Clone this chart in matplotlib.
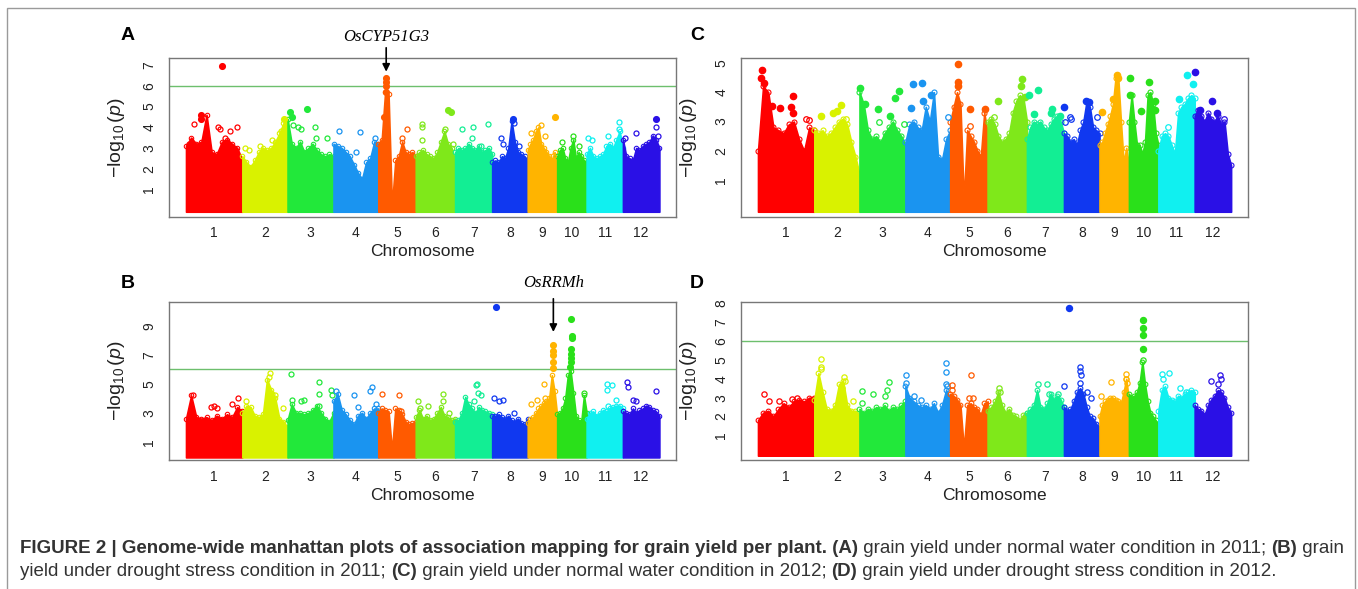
import numpy as np
import matplotlib
matplotlib.use('Agg')
import matplotlib.pyplot as plt
from matplotlib import font_manager
from matplotlib.patches import Rectangle

plt.rcParams['font.family'] = ['Liberation Sans', 'DejaVu Sans']
plt.rcParams['mathtext.fontset'] = 'custom'
plt.rcParams['mathtext.rm'] = 'Liberation Sans'
plt.rcParams['mathtext.it'] = 'Liberation Sans:italic'

W, H = 1358, 589

# chromosome lengths (Mb) and colours
chrom_len = [44.4, 35.6, 36.2, 35.3, 29.5, 31.0, 29.2, 28.0, 23.2, 23.2, 28.6, 28.7]
chrom_names = [str(i) for i in range(1, 13)]
chrom_colors = ['#FF0000', '#D9F200', '#22E83A', '#1A94F0', '#FF5A00', '#7FE81A',
                '#12EE94', '#1038F0', '#FFB400', '#2AE01A', '#10F0F0', '#2A10E6']

# upper outline of the dense SNP cloud, 12 readings across every chromosome
env_A = [[3.1, 3.5, 3.2, 3.3, 4.6, 2.8, 2.7, 3.3, 3.4, 3.2, 3.0, 2.4],
         [2.6, 2.3, 2.1, 2.4, 2.8, 3.0, 2.9, 3.0, 3.3, 3.7, 4.2, 4.4],
         [4.4, 3.2, 3.0, 3.3, 2.8, 3.0, 3.2, 2.9, 2.7, 2.6, 2.7, 2.6],
         [3.2, 3.1, 3.0, 2.8, 2.6, 2.2, 1.8, 1.5, 2.3, 2.5, 3.3, 3.2],
         [3.2, 3.4, 5.7, 5.6, 0.2, 2.4, 2.6, 3.3, 2.8, 2.7, 2.8, 2.6],
         [2.6, 2.8, 2.9, 2.7, 2.6, 2.5, 2.8, 3.3, 3.8, 3.2, 3.0, 2.4],
         [2.8, 3.0, 2.9, 3.0, 3.2, 3.0, 2.9, 3.1, 2.8, 2.9, 3.0, 2.7],
         [2.3, 2.4, 2.3, 2.6, 2.5, 3.0, 4.3, 3.3, 2.8, 2.7, 2.6, 2.4],
         [2.9, 3.2, 3.4, 3.8, 4.0, 3.2, 3.0, 2.8, 2.6, 2.4, 2.8, 2.3],
         [2.6, 2.9, 3.0, 2.5, 2.3, 3.0, 3.4, 2.5, 2.8, 2.6, 2.4, 2.3],
         [2.7, 3.0, 2.6, 2.5, 2.6, 2.7, 3.1, 3.2, 3.0, 3.4, 3.8, 3.0],
         [3.4, 2.6, 2.5, 2.4, 3.0, 2.9, 3.1, 3.2, 3.3, 3.6, 3.4, 3.0]]

env_B = [[2.6, 4.2, 2.7, 2.6, 2.7, 2.5, 2.8, 2.6, 2.9, 2.7, 3.4, 3.1],
         [3.0, 3.5, 3.4, 2.8, 2.7, 2.9, 5.3, 4.6, 4.0, 2.6, 2.4, 2.0],
         [2.5, 3.6, 3.0, 3.0, 2.9, 3.0, 3.2, 3.5, 3.0, 2.6, 2.4, 3.0],
         [3.8, 4.3, 3.2, 2.9, 2.5, 2.2, 2.8, 3.0, 2.6, 3.0, 3.3, 3.3],
         [3.0, 3.3, 3.2, 3.1, 0.4, 3.3, 3.2, 2.9, 2.4, 2.2, 2.3, 2.4],
         [2.7, 3.2, 2.6, 2.8, 2.5, 2.6, 3.0, 3.4, 2.8, 2.7, 2.5, 2.6],
         [2.4, 2.5, 3.0, 4.1, 3.6, 3.3, 3.0, 3.4, 3.2, 3.1, 3.0, 2.9],
         [2.8, 2.8, 2.9, 2.7, 2.6, 2.8, 2.5, 2.4, 2.6, 2.3, 2.2, 2.6],
         [2.3, 2.6, 2.7, 3.0, 3.3, 3.5, 3.7, 3.8, 4.0, 5.6, 4.5, 2.8],
         [2.9, 3.0, 3.3, 4.0, 5.6, 5.9, 4.4, 2.8, 2.5, 2.4, 4.2, 3.0],
         [2.6, 3.0, 3.1, 2.8, 3.0, 3.2, 3.1, 3.3, 3.4, 3.5, 3.5, 3.3],
         [3.1, 3.0, 2.9, 3.3, 3.0, 3.2, 3.3, 3.5, 3.4, 3.2, 3.1, 2.8]]

env_C = [[2.0, 4.2, 4.0, 2.8, 2.7, 2.6, 2.9, 3.0, 2.4, 2.0, 2.8, 2.7],
         [2.7, 2.6, 2.7, 2.5, 2.6, 2.8, 3.0, 3.1, 2.9, 2.3, 1.8, 1.2],
         [4.0, 3.6, 2.7, 2.4, 2.5, 2.3, 2.6, 2.8, 3.0, 2.7, 2.5, 2.2],
         [2.3, 2.9, 3.0, 2.8, 2.7, 3.5, 3.0, 4.0, 1.8, 1.7, 2.4, 2.7],
         [3.0, 3.5, 4.0, 3.6, 0.3, 2.7, 2.5, 2.3, 2.0, 1.8, 3.3, 2.6],
         [3.0, 3.1, 2.9, 2.5, 2.3, 2.4, 2.6, 3.3, 3.7, 3.9, 3.8, 3.0],
         [2.4, 2.8, 3.0, 2.9, 3.0, 2.8, 2.7, 2.9, 3.1, 3.2, 3.0, 2.6],
         [2.6, 2.5, 2.3, 2.4, 2.2, 2.7, 3.0, 3.7, 3.5, 2.8, 2.7, 2.6],
         [2.2, 2.3, 2.6, 2.9, 3.2, 3.6, 4.5, 4.5, 3.0, 1.6, 2.1, 1.5],
         [3.0, 3.9, 3.0, 2.2, 2.2, 1.9, 2.3, 3.9, 4.0, 3.6, 2.6, 2.2],
         [2.0, 2.5, 2.6, 2.5, 2.2, 1.9, 3.3, 3.5, 3.6, 3.8, 3.9, 3.8],
         [3.2, 3.4, 3.2, 3.0, 3.3, 3.1, 3.0, 3.2, 2.9, 3.0, 1.9, 1.5]]

env_D = [[1.8, 2.2, 2.3, 2.0, 2.4, 2.7, 2.5, 2.8, 2.9, 2.8, 3.0, 3.0],
         [2.9, 4.3, 3.3, 2.4, 2.3, 2.6, 3.7, 3.9, 2.6, 2.3, 2.3, 2.1],
         [2.4, 2.2, 2.4, 2.3, 2.5, 2.4, 2.6, 2.3, 2.5, 2.4, 2.6, 2.8],
         [3.6, 3.0, 2.8, 2.6, 2.5, 2.6, 2.4, 2.7, 2.2, 2.6, 3.4, 3.0],
         [3.2, 3.1, 2.9, 2.6, 0.3, 2.6, 2.7, 2.5, 2.4, 2.1, 2.7, 2.8],
         [2.3, 2.5, 2.8, 3.3, 2.6, 2.2, 2.4, 2.1, 2.0, 1.8, 2.1, 2.2],
         [2.2, 2.4, 2.6, 3.4, 2.5, 2.4, 2.7, 3.2, 2.9, 3.1, 2.9, 2.5],
         [2.5, 2.3, 2.4, 2.8, 3.3, 3.5, 3.2, 2.5, 2.0, 1.9, 1.6, 1.4],
         [2.0, 2.6, 2.8, 2.9, 3.0, 3.0, 2.9, 2.8, 2.7, 3.3, 4.0, 2.8],
         [3.2, 3.0, 3.1, 3.3, 3.8, 4.9, 3.7, 2.8, 2.2, 2.0, 1.8, 1.6],
         [2.3, 3.4, 3.6, 3.0, 2.9, 2.8, 3.1, 3.0, 3.2, 3.3, 3.4, 3.3],
         [2.6, 2.4, 2.3, 2.1, 2.6, 2.9, 3.1, 3.4, 3.3, 3.0, 2.5, 2.2]]

# single SNPs standing above the cloud: (chromosome, position along chromosome 0-1, -log10 p)
hits_A = [(1, .64, 6.95), (1, .15, 4.15), (1, .26, 4.6), (1, .27, 4.4), (1, .56, 4.0), (1, .60, 3.9),
          (1, .69, 3.5), (1, .78, 3.8), (1, .90, 4.0), (1, .05, 3.2), (1, .72, 3.3),
          (2, .05, 3.0), (2, .15, 2.9), (2, .40, 3.1), (2, .65, 3.4), (2, .85, 3.8), (2, .93, 4.4),
          (3, .05, 4.75), (3, .10, 4.5), (3, .12, 4.1), (3, .22, 4.0), (3, .30, 3.9), (3, .42, 4.9),
          (3, .60, 4.0), (3, .62, 3.5), (3, .85, 3.5),
          (4, .13, 3.8), (4, .60, 3.75), (4, .93, 3.5), (4, .50, 2.8),
          (5, .21, 6.4), (5, .21, 6.2), (5, .21, 6.0), (5, .20, 5.7), (5, .14, 4.5), (5, .64, 3.5), (5, .77, 3.9),
          (6, .15, 4.15), (6, .15, 4.0), (6, .15, 3.4), (6, .75, 3.9), (6, .82, 4.85), (6, .90, 4.75), (6, .95, 3.2),
          (7, .18, 3.9), (7, .48, 4.0), (7, .45, 3.5), (7, .90, 4.15), (7, .70, 3.1),
          (8, .25, 3.5), (8, .30, 3.2), (8, .59, 4.4), (8, .60, 4.2), (8, .75, 3.1),
          (9, .10, 3.7), (9, .45, 4.1), (9, .60, 3.6), (9, .93, 4.5), (9, .85, 2.6),
          (10, .15, 3.3), (10, .55, 3.6), (10, .75, 3.1),
          (11, .05, 3.5), (11, .15, 3.4), (11, .60, 3.6), (11, .90, 4.25), (11, .88, 3.9),
          (12, .05, 3.5), (12, .35, 3.7), (12, .90, 4.4), (12, .90, 4.0), (12, .95, 3.6)]

hits_B = [(1, .45, 3.4), (1, .50, 3.5), (1, .55, 3.3), (1, .82, 3.6), (1, .92, 4.0), (1, .12, 4.2),
          (2, .08, 3.8), (2, .62, 5.75), (2, .60, 5.5), (2, .65, 4.3), (2, .72, 4.2), (2, .90, 3.3),
          (3, .08, 5.65), (3, .10, 3.9), (3, .30, 3.8), (3, .35, 3.9), (3, .68, 5.1), (3, .68, 4.3),
          (3, .68, 3.5), (3, .94, 4.6), (3, .96, 4.2),
          (4, .05, 4.5), (4, .45, 4.2), (4, .55, 3.4), (4, .82, 4.5), (4, .85, 4.8), (4, .95, 3.6),
          (5, .10, 4.3), (5, .55, 4.2), (5, .60, 3.1),
          (6, .05, 3.8), (6, .10, 3.3), (6, .30, 3.5), (6, .70, 4.3), (6, .70, 3.8), (6, .85, 3.0),
          (7, .50, 3.8), (7, .55, 4.9), (7, .60, 5.0), (7, .62, 4.4), (7, .70, 4.2),
          (8, .12, 10.3), (8, .05, 4.0), (8, .20, 3.8), (8, .30, 3.9), (8, .60, 3.0),
          (9, .10, 3.6), (9, .30, 3.9), (9, .55, 5.0), (9, .60, 4.0), (9, .87, 7.7), (9, .87, 7.3),
          (9, .87, 7.0), (9, .87, 6.5), (9, .87, 6.1),
          (10, .48, 9.5), (10, .49, 8.3), (10, .49, 8.2), (10, .48, 7.4), (10, .48, 7.1), (10, .47, 6.8),
          (10, .47, 6.5), (10, .45, 6.2), (10, .90, 4.4),
          (11, .55, 5.0), (11, .55, 4.6), (11, .70, 4.9), (11, .80, 3.9), (11, .60, 3.5),
          (12, .12, 5.1), (12, .15, 4.8), (12, .28, 3.9), (12, .90, 4.5), (12, .35, 3.8)]

hits_C = [(1, .07, 4.75), (1, .06, 4.5), (1, .10, 4.3), (1, .24, 3.53), (1, .39, 3.45), (1, .59, 3.49),
          (1, .63, 3.87), (1, .62, 3.3), (1, .86, 3.1), (1, .90, 3.05),
          (2, .15, 3.2), (2, .42, 3.3), (2, .50, 3.35), (2, .58, 3.55), (2, .70, 3.1),
          (3, .02, 4.15), (3, .12, 3.6), (3, .41, 3.42), (3, .42, 3.0), (3, .66, 3.2), (3, .78, 3.8),
          (3, .85, 4.05), (3, .97, 2.9),
          (4, .17, 4.28), (4, .38, 4.33), (4, .13, 3.45), (4, .40, 3.7), (4, .57, 3.9), (4, .95, 3.17),
          (5, .20, 4.95), (5, .20, 4.35), (5, .20, 4.2), (5, .52, 3.43), (5, .52, 2.85), (5, .92, 3.42),
          (6, .26, 3.7), (6, .88, 4.44), (6, .84, 4.2), (6, .95, 3.85), (6, .15, 3.15),
          (7, .05, 3.9), (7, .30, 4.08), (7, .20, 3.25), (7, .68, 3.42), (7, .65, 3.3), (7, .90, 3.2),
          (8, .01, 3.49), (8, .03, 3.0), (8, .18, 3.15), (8, .20, 3.1), (8, .62, 3.7), (8, .70, 3.68),
          (8, .94, 3.15),
          (9, .08, 3.32), (9, .47, 3.77), (9, .60, 4.6), (9, .62, 4.5),
          (10, .04, 4.5), (10, .05, 3.9), (10, .42, 3.36), (10, .68, 4.36), (10, .88, 3.7), (10, .88, 3.4),
          (11, .26, 2.83), (11, .56, 3.78), (11, .79, 4.59), (11, .95, 4.27),
          (12, .02, 4.7), (12, .15, 3.4), (12, .47, 3.7), (12, .60, 3.3), (12, .80, 3.1)]

hits_D = [(1, .10, 3.2), (1, .20, 2.8), (1, .38, 2.8), (1, .60, 2.95), (1, .70, 3.0),
          (2, .15, 5.05), (2, .15, 4.6), (2, .15, 4.5), (2, .65, 4.1), (2, .68, 3.9), (2, .62, 3.5), (2, .85, 2.8),
          (3, .05, 3.35), (3, .05, 2.7), (3, .30, 3.2), (3, .55, 3.1), (3, .60, 3.4), (3, .65, 3.85),
          (4, .02, 4.2), (4, .02, 3.8), (4, .20, 3.1), (4, .35, 2.9), (4, .90, 4.85), (4, .90, 4.35),
          (4, .90, 3.7), (4, .92, 3.6),
          (5, .05, 3.65), (5, .05, 3.4), (5, .50, 3.0), (5, .55, 4.2), (5, .60, 3.0),
          (6, .30, 3.5), (6, .32, 3.3),
          (7, .30, 3.75), (7, .55, 3.7), (7, .60, 3.2), (7, .85, 3.2),
          (8, .14, 7.75), (8, .00, 3.6), (8, .45, 4.6), (8, .45, 4.4), (8, .47, 4.2), (8, .45, 3.8),
          (8, .65, 3.3), (8, .75, 3.0),
          (9, .05, 3.1), (9, .40, 3.85), (9, .90, 4.25), (9, .90, 4.0), (9, .92, 3.8),
          (10, .49, 7.1), (10, .48, 6.7), (10, .47, 6.3), (10, .49, 5.6), (10, .49, 5.0),
          (11, .10, 4.25), (11, .12, 4.0), (11, .30, 4.3), (11, .60, 3.5), (11, .75, 3.3),
          (12, .45, 3.9), (12, .70, 4.2), (12, .72, 4.0), (12, .65, 3.7)]

starts = np.concatenate([[0], np.cumsum(chrom_len)[:-1]])
total = float(np.sum(chrom_len))


def px_axes(left, top, right, bottom):
    return [left / W, 1 - bottom / H, (right - left) / W, (bottom - top) / H]


def manhattan(ax, env, hits, ylim, yticks, solid_from, ms, thresh=True):
    for i in range(12):
        h = np.array(env[i])
        x = starts[i] + np.linspace(0, 1, len(h)) * chrom_len[i]
        col = chrom_colors[i]
        ax.fill_between(x, -0.08, h, color=col, lw=1.2, zorder=2)
        ax.plot(x, h, 'o', mfc='none', mec=col, ms=ms - 0.4, mew=0.8, zorder=2)
    for c, f, v in hits:
        x = starts[c - 1] + f * chrom_len[c - 1]
        col = chrom_colors[c - 1]
        if v >= solid_from:
            ax.plot(x, v, 'o', color=col, ms=ms + 0.5, mec=col, zorder=3)
        else:
            ax.plot(x, v, 'o', mfc='none', mec=col, ms=ms, mew=0.9, zorder=3)
    if thresh:
        ax.axhline(6, color='#6DBF6D', lw=1.0, zorder=1)
    ax.set_xlim(-13.4, total + 13.1)
    ax.set_ylim(*ylim)
    ax.set_xticks(starts + np.array(chrom_len) / 2)
    ax.set_xticklabels(chrom_names)
    ax.set_yticks(yticks)
    ax.set_yticklabels([str(t) for t in yticks], rotation=90, va='center')
    ax.tick_params(length=0, labelsize=10, colors='#222222')
    ax.tick_params(axis='x', pad=7)
    ax.tick_params(axis='y', pad=9)
    for s in ax.spines.values():
        s.set_color('#777777')
        s.set_linewidth(1.0)
    ax.set_ylabel(r'$-\log_{10}(p)$', fontsize=14, color='#222222')
    ax.yaxis.set_label_coords(-0.083, 0.5)
    ax.set_xlabel('Chromosome', fontsize=12.5, color='#222222', va='center')
    ax.xaxis.set_label_coords(0.5, -0.222)


fig = plt.figure(figsize=(W / 100, H / 100), dpi=100)

axA = fig.add_axes(px_axes(169, 58.3, 676, 216.7))
axC = fig.add_axes(px_axes(741, 58.3, 1247.7, 216.7))
axB = fig.add_axes(px_axes(169, 302.3, 676, 460))
axD = fig.add_axes(px_axes(741, 302.3, 1247.7, 460))

manhattan(axA, env_A, hits_A, (-0.32, 7.33), [1, 2, 3, 4, 5, 6, 7], 4.4, 3.6)
manhattan(axC, env_C, hits_C, (-0.25, 5.16), [1, 2, 3, 4, 5], 3.2, 4.0, thresh=False)
manhattan(axB, env_B, hits_B, (-0.26, 10.64), [1, 3, 5, 7, 9], 5.9, 3.6)
manhattan(axD, env_D, hits_D, (-0.31, 8.06), [1, 2, 3, 4, 5, 6, 7, 8], 5.5, 3.8)

# panel letters
for lab, xp, yp in [('A', 128, 36), ('C', 697, 36), ('B', 128, 283), ('D', 697, 283)]:
    fig.text(xp / W, 1 - yp / H, lab, fontsize=14, fontweight='bold', ha='center', va='center')

# candidate gene arrows
arrow = dict(arrowstyle='-|>', color='black', lw=1.2, mutation_scale=11)
serif = ['Liberation Serif', 'DejaVu Serif']
xa = starts[4] + 0.21 * chrom_len[4]
xa_px = axA.transData.transform((xa, 0))[0]
axA.annotate('', xy=(xa, 6.55), xytext=(xa_px, H - 45), textcoords='figure pixels',
             arrowprops=arrow, annotation_clip=False)
fig.text(xa_px / W, 1 - 37 / H, 'OsCYP51G3', fontsize=12, style='italic',
         family=serif, ha='center', va='center')

xb = starts[8] + 0.87 * chrom_len[8]
xb_px = axB.transData.transform((xb, 0))[0]
axB.annotate('', xy=(xb, 8.4), xytext=(xb_px, H - 296), textcoords='figure pixels',
             arrowprops=arrow, annotation_clip=False)
fig.text(xb_px / W, 1 - 283 / H, 'OsRRMh', fontsize=12, style='italic',
         family=serif, ha='center', va='center')

# frame around the figure
fig.patches.append(Rectangle((7 / W, -0.05), (1355 - 7) / W, 1.05 - 8 / H,
                             transform=fig.transFigure, fill=False, ec='#9A9A9A', lw=1.0))

# caption
installed = {f.name for f in font_manager.fontManager.ttflist}
cap_family = ['Liberation Sans Narrow', 'Liberation Sans'] if 'Liberation Sans Narrow' in installed \
    else ['Liberation Sans']

line1 = [('FIGURE 2 | Genome-wide manhattan plots of association mapping for grain yield per plant.', True),
         (' (A)', True), (' grain yield under normal water condition in 2011; ', False),
         ('(B)', True), (' grain', False)]
line2 = [('yield under drought stress condition in 2011; ', False), ('(C)', True),
         (' grain yield under normal water condition in 2012; ', False), ('(D)', True),
         (' grain yield under drought stress condition in 2012.', False)]

renderer = fig.canvas.get_renderer()


def put_runs(runs, y_base, size, draw=True):
    x = 20.0
    made = []
    for txt, bold in runs:
        t = fig.text(x / W, 1 - y_base / H, txt, fontsize=size, family=cap_family,
                     fontweight='bold' if bold else 'normal', color='#333333', va='baseline')
        x += t.get_window_extent(renderer).width
        made.append(t)
    if not draw:
        for t in made:
            t.remove()
    return x - 20.0


width1 = put_runs(line1, 553, 12, draw=False)
cap_size = 12 * 1325.0 / width1
put_runs(line1, 553, cap_size)
put_runs(line2, 576, cap_size)

fig.savefig('out.png', dpi=100)
